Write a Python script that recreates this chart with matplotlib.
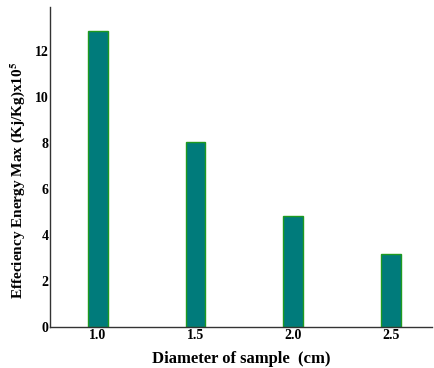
import matplotlib
matplotlib.use("Agg")
import matplotlib.pyplot as plt

diameters = [1.0, 1.5, 2.0, 2.5]
tick_labels = ["1.0", "1.5", "2.0", "2.5"]
energy_max = [12.87, 8.04, 4.83, 3.17]
y_ticks = [0, 2, 4, 6, 8, 10, 12]

plt.rcParams['font.family'] = ['Liberation Serif', 'DejaVu Serif']
plt.rcParams['mathtext.fontset'] = 'stix'

fig = plt.figure(figsize=(4.34, 3.68), dpi=100)
ax = fig.add_axes([0.115, 0.111, 0.88, 0.87])
ax.bar(diameters, energy_max, width=0.1, color='#007b7b', edgecolor='#1f9a1f', linewidth=1.0)
ax.set_xlim(0.755, 2.71)
ax.set_ylim(0, 13.9)
ax.set_xticks(diameters)
ax.set_xticklabels(tick_labels, fontsize=10, fontweight='bold')
ax.set_yticks(y_ticks)
ax.set_yticklabels([str(t) for t in y_ticks], fontsize=10, fontweight='bold')
ax.tick_params(axis='both', length=0, pad=1)
for s in ['top', 'right']:
    ax.spines[s].set_visible(False)
for s in ['left', 'bottom']:
    ax.spines[s].set_color('#333333')
    ax.spines[s].set_linewidth(1.0)
ax.set_xlabel("Diameter of sample  (cm)", fontsize=12, fontweight='bold', labelpad=7)
ax.set_ylabel(r"Effeciency Energy Max (Kj/Kg)x10$^{\mathbf{5}}$", fontsize=11, fontweight='bold')
ax.yaxis.set_label_coords(-0.06, 0.46)
fig.savefig("out.png", dpi=100)
